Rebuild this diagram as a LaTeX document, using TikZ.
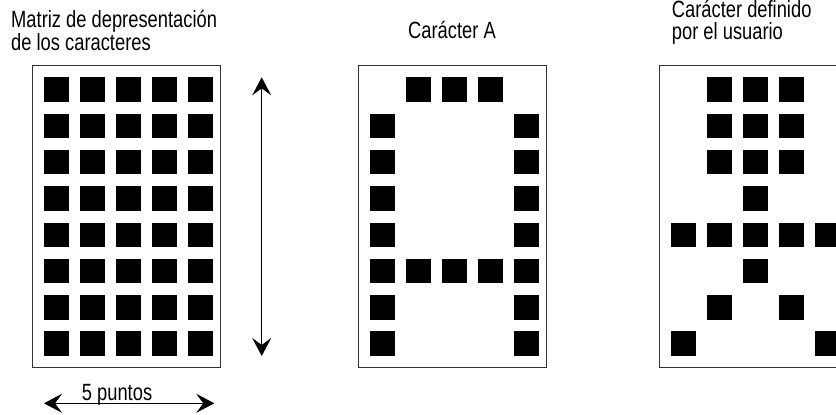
\documentclass[tikz,border=0pt]{standalone}
\usepackage{fontspec}
\setmainfont{Liberation Sans}[FakeStretch=0.78]
\usetikzlibrary{arrows.meta}
\newcommand\mysq[3]{\fill[dot] (#1+12+36*#2, 77.3+36.3*#3) rectangle ++(24.5,24.5);}
\begin{document}
\begin{tikzpicture}[x=1pt,y=-1pt,
  dot/.style={fill=black},
  frame/.style={draw=black!80, line width=1pt},
  dim/.style={line width=1.1pt, {Stealth[length=18pt,width=19pt,inset=7pt]}-{Stealth[length=18pt,width=19pt,inset=7pt]}},
  title/.style={anchor=base west, inner sep=0pt, align=left, font=\fontsize{23.5}{22.5}\selectfont}]
\useasboundingbox (0,0) rectangle (836,415);
\clip (0,0) rectangle (836,415);
% frames
\draw[frame] (32,65.7) rectangle ++(188.5,301.8);
\draw[frame] (358.3,65.7) rectangle ++(188.5,301.8);
\draw[frame] (659.3,65.7) rectangle ++(188.5,301.8);
% full matrix
\foreach \r in {0,...,7} {\foreach \c in {0,...,4} {\mysq{32}{\c}{\r}}}
% character A
\foreach \c/\r in {1/0,2/0,3/0,0/1,4/1,0/2,4/2,0/3,4/3,0/4,4/4,0/5,1/5,2/5,3/5,4/5,0/6,4/6,0/7,4/7} {\mysq{358.3}{\c}{\r}}
% user character
\foreach \c/\r in {1/0,2/0,3/0,1/1,2/1,3/1,1/2,2/2,3/2,2/3,0/4,1/4,2/4,3/4,4/4,2/5,1/6,3/6,0/7,4/7} {\mysq{659.3}{\c}{\r}}
% titles (base anchor = baseline of last line)
\node[title] (t1) at (11,50.2) {Matriz de depresentación\\de los caracteres};
\node[title] (t2) at (408,38.3) {Carácter A};
\node[title] (t3) at (671.7,39.8) {Carácter definido\\por el usuario};
\node[title] (t4) at (81.7,400) {5 puntos};
% arrows
\coordinate (vt) at (261.7,77.3);
\coordinate (vb) at (261.7,356);
\draw[dim] (vt) -- (vb);
\coordinate (hl) at (44,403.3);
\coordinate (hr) at (214.3,403.3);
\draw[dim] (hl) -- (hr);
\end{tikzpicture}
\end{document}
